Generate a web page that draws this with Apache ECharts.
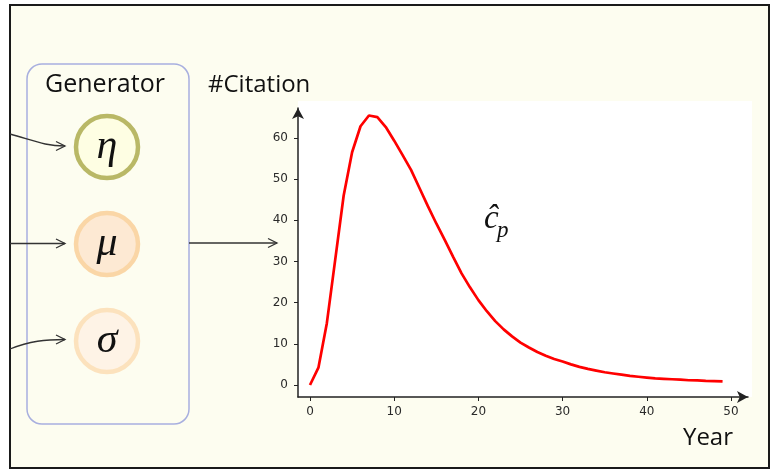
<!DOCTYPE html>
<html>
<head>
<meta charset="utf-8">
<script src="https://cdn.jsdelivr.net/npm/echarts@6/dist/echarts.min.js"></script>
<style>
  html, body { margin: 0; padding: 0; background: #fff; }
  #chart { width: 780px; height: 470px; }
</style>
</head>
<body>
<div id="chart"></div>
<script>
// yearly citations
const years = [];
for (let i = 0; i < 50; i++) years.push(i);
const citations = [
  0, 4.2, 15, 30.5, 46, 56.5, 62.8, 65.4, 65.0, 62.6,
  59.3, 55.8, 52.2, 47.8, 43.4, 39.2, 35.2, 31.1, 27.1, 23.7,
  20.6, 17.9, 15.5, 13.5, 11.8, 10.3, 9.1, 8.0, 7.1, 6.3,
  5.7, 5.0, 4.4, 3.9, 3.5, 3.1, 2.8, 2.5, 2.2, 2.0,
  1.8, 1.6, 1.5, 1.4, 1.3, 1.15, 1.1, 1.0, 0.95, 0.9
];
const xTicks = [0, 10, 20, 30, 40, 50];
const yTicks = [0, 10, 20, 30, 40, 50, 60];

const nodes = [
  { sym: 'η', cy: 147, stroke: '#B9B866', fill: '#FEFEE3' },
  { sym: 'μ', cy: 244, stroke: '#FAD6A6', fill: '#FDE9D3' },
  { sym: 'σ', cy: 341, stroke: '#FCE2BD', fill: '#FEF3E6' }
];

const ink = '#333';

function head(tx, ty) {
  return {
    type: 'polyline', z: 5,
    shape: { points: [[tx - 9, ty - 4.5], [tx, ty], [tx - 9, ty + 4.5]] },
    style: { stroke: ink, lineWidth: 1.3, fill: null }
  };
}

const chart = echarts.init(document.getElementById('chart'));

const graphics = [
  // frame
  { type: 'rect', z: -20, shape: { x: 10, y: 5, width: 759, height: 463 },
    style: { fill: '#FDFDF0', stroke: '#1a1a1a', lineWidth: 2 } },
  // plot background
  { type: 'rect', z: -10, shape: { x: 298, y: 101, width: 454, height: 296 },
    style: { fill: '#fff' } },
  // generator box
  { type: 'rect', z: 1, shape: { x: 27, y: 64, width: 162, height: 360, r: 15 },
    style: { fill: null, stroke: '#A8AFDF', lineWidth: 1.5 } },
  { type: 'text', z: 5, x: 105, y: 85,
    style: { text: 'Generator', font: '25px "Open Sans"', fill: '#111',
      align: 'center', verticalAlign: 'middle' } },
  { type: 'text', z: 5, x: 208, y: 85,
    style: { text: '#Citation', font: '24px "Open Sans"', fill: '#111',
      align: 'left', verticalAlign: 'middle' } },
  { type: 'text', z: 5, x: 733, y: 438,
    style: { text: 'Year', font: '24px "Open Sans"', fill: '#111',
      align: 'right', verticalAlign: 'middle' } },
  // c hat p
  { type: 'text', z: 5, x: 484, y: 219,
    style: { text: 'ĉ', font: 'italic 33px "Liberation Serif"', fill: '#111',
      align: 'left', verticalAlign: 'middle' } },
  { type: 'text', z: 5, x: 497, y: 231,
    style: { text: 'p', font: 'italic 23px "Liberation Serif"', fill: '#111',
      align: 'left', verticalAlign: 'middle' } },
  // arrows into the nodes
  { type: 'bezierCurve', z: 5,
    shape: { x1: 10, y1: 134, cpx1: 35, cpy1: 141, cpx2: 45, cpy2: 146, x2: 65, y2: 146 },
    style: { stroke: ink, lineWidth: 1.3, fill: null } },
  head(65, 146),
  { type: 'line', z: 5, shape: { x1: 10, y1: 243.5, x2: 65, y2: 243.5 },
    style: { stroke: ink, lineWidth: 1.3 } },
  head(65, 243.5),
  { type: 'bezierCurve', z: 5,
    shape: { x1: 10, y1: 349, cpx1: 30, cpy1: 341, cpx2: 45, cpy2: 339.5, x2: 65, y2: 339.5 },
    style: { stroke: ink, lineWidth: 1.3, fill: null } },
  head(65, 339.5),
  // arrow from box to chart
  { type: 'line', z: 5, shape: { x1: 189, y1: 243, x2: 277, y2: 243 },
    style: { stroke: ink, lineWidth: 1.3 } },
  head(277, 243)
];

nodes.forEach(n => {
  graphics.push({ type: 'circle', z: 3, shape: { cx: 107, cy: n.cy, r: 31 },
    style: { fill: n.fill, stroke: n.stroke, lineWidth: 4.5 } });
  graphics.push({ type: 'text', z: 5, x: 107, y: n.cy,
    style: { text: n.sym, font: 'italic 42px "Liberation Serif"', fill: '#111',
      align: 'center', verticalAlign: 'middle' } });
});

const option = {
  backgroundColor: '#fff',
  animation: false,
  graphic: graphics,
  grid: { left: 298, top: 108, width: 450, height: 289, containLabel: false },
  xAxis: {
    type: 'value', min: -1.425, max: 52.02,
    splitLine: { show: false },
    axisLine: { show: true, onZero: false, symbol: ['none', 'arrow'], symbolSize: [9, 11],
      lineStyle: { color: '#222', width: 1.5 } },
    axisTick: { show: true, length: 4, customValues: xTicks, lineStyle: { color: '#222' } },
    axisLabel: { customValues: xTicks, margin: 9, color: '#2a2a2a', fontSize: 12,
      fontFamily: 'DejaVu Sans' }
  },
  yAxis: {
    type: 'value', min: -2.913, max: 67.23,
    splitLine: { show: false },
    axisLine: { show: true, onZero: false, symbol: ['none', 'arrow'], symbolSize: [9, 11],
      lineStyle: { color: '#222', width: 1.5 } },
    axisTick: { show: true, length: 4, customValues: yTicks, lineStyle: { color: '#222' } },
    axisLabel: { customValues: yTicks, margin: 10, color: '#2a2a2a', fontSize: 12,
      fontFamily: 'DejaVu Sans' }
  },
  series: [{
    type: 'line',
    data: years.map((y, i) => [y, citations[i]]),
    showSymbol: false,
    smooth: false,
    lineStyle: { color: '#ff0000', width: 2.7 },
    z: 4
  }]
};
chart.setOption(option);
</script>
</body>
</html>
